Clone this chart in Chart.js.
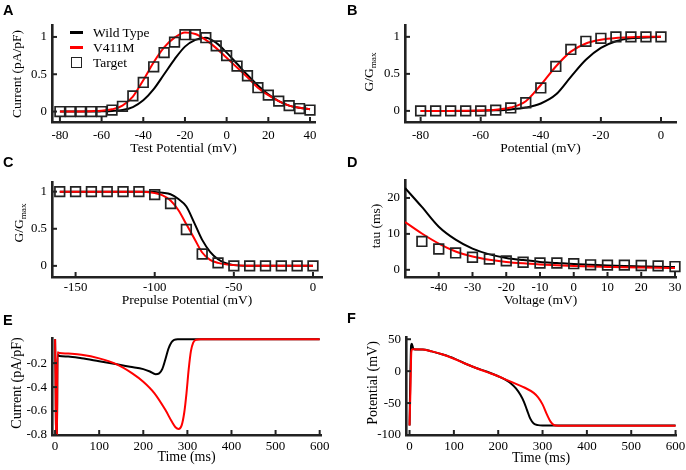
<!DOCTYPE html>
<html>
<head>
<meta charset="utf-8">
<script src="https://cdn.jsdelivr.net/npm/chart.js@4.4.0/dist/chart.umd.min.js"></script>
<style>
  body { margin: 0; background: #fff; width: 686px; height: 470px; position: relative; overflow: hidden; }
  canvas { position: absolute; }
  .lbl { position: absolute; font: bold 14.5px "Liberation Sans", Arial, sans-serif; line-height: 14px; color: #000; }
  .leg { position: absolute; font: 13.5px "Liberation Serif", "Times New Roman", serif; line-height: 14px; color: #000; white-space: nowrap; }
  .sw { position: absolute; }
</style>
</head>
<body>
<canvas id="chartA"></canvas>
<canvas id="chartB"></canvas>
<canvas id="chartC"></canvas>
<canvas id="chartD"></canvas>
<canvas id="chartE"></canvas>
<canvas id="chartF"></canvas>

<div class="lbl" style="left:3px;top:3px">A</div>
<div class="lbl" style="left:347px;top:3px">B</div>
<div class="lbl" style="left:3px;top:155px">C</div>
<div class="lbl" style="left:347px;top:155px">D</div>
<div class="lbl" style="left:3px;top:313px">E</div>
<div class="lbl" style="left:347px;top:311px">F</div>

<!-- legend of panel A -->
<div class="sw" style="left:70px;top:31px;width:13px;height:2.5px;background:#000"></div>
<div class="leg" style="left:93px;top:25.5px">Wild Type</div>
<div class="sw" style="left:70px;top:46px;width:13px;height:2.5px;background:#ff0000"></div>
<div class="leg" style="left:93px;top:40.5px">V411M</div>
<div class="sw" style="left:71px;top:57px;width:11px;height:11px;box-sizing:border-box;border:1.7px solid #222"></div>
<div class="leg" style="left:93px;top:55.5px">Target</div>

<script>
// A: peak current vs test potential
const aVolt = [-80,-75,-70,-65,-60,-55,-50,-45,-40,-35,-30,-25,-20,-15,-10,-5,0,5,10,15,20,25,30,35,40];
const aWildType = [0,0,0,0,0.003,0.008,0.02,0.06,0.15,0.3,0.5,0.7,0.87,0.96,0.99,0.92,0.79,0.64,0.49,0.35,0.23,0.14,0.08,0.05,0.03];
const aV411M = [0,0,0.002,0.005,0.01,0.03,0.08,0.2,0.42,0.66,0.86,0.99,1.06,1.04,0.96,0.85,0.72,0.59,0.46,0.32,0.22,0.14,0.08,0.05,0.03];
const aTarget = [0,0,0,0,0,0.02,0.07,0.21,0.39,0.6,0.79,0.93,1.03,1.03,0.99,0.88,0.75,0.61,0.48,0.32,0.22,0.14,0.08,0.04,0.02];
const aTicksX = [-80,-60,-40,-20,0,20,40];
const aTicksY = [0,0.5,1];

// B: activation G/Gmax
const bVolt = [-80,-75,-70,-65,-60,-55,-50,-45,-40,-35,-30,-25,-20,-15,-10,-5,0];
const bWildType = [0,0,0,0,0.002,0.008,0.02,0.045,0.1,0.22,0.46,0.69,0.85,0.94,0.98,0.99,1];
const bV411M = [0,0,0,0.002,0.005,0.015,0.045,0.13,0.35,0.6,0.8,0.91,0.96,0.985,0.995,1,1];
const bTarget = [0,0,0,0,0,0.01,0.04,0.11,0.31,0.6,0.83,0.94,0.98,1,1,1,1];
const bTicksX = [-80,-60,-40,-20,0];
const bTicksY = [0,0.5,1];

// C: steady-state inactivation
const cVolt = [-160,-150,-140,-130,-120,-110,-100,-90,-80,-70,-60,-50,-40,-30,-20,-10,0];
const cTarget = [1,1,1,1,1,1,0.96,0.84,0.49,0.16,0.04,0,0,0,0,0,0];
const cCurveVolt = [-160,-150,-140,-130,-120,-110,-105,-100,-95,-90,-85,-80,-75,-70,-65,-60,-55,-50,-40,-30,-20,-10,0];
const cWildType = [1,1,1,1,1,1,1,0.995,0.985,0.965,0.9,0.8,0.58,0.35,0.19,0.09,0.035,0.01,0,0,0,0,0];
const cV411M = [1,1,1,1,1,1,0.995,0.98,0.95,0.88,0.75,0.56,0.37,0.18,0.08,0.04,0.02,0.01,0,0,0,0,0];
const cTicksX = [-150,-100,-50,0];
const cTicksY = [0,0.5,1];

// D: time constant
const dVolt = [-45,-40,-35,-30,-25,-20,-15,-10,-5,0,5,10,15,20,25,30];
const dTarget = [7.9,5.8,4.7,3.5,3.0,2.5,2.1,1.9,1.9,1.7,1.4,1.3,1.3,1.2,1.1,0.9];
const dCurveVolt = [-50,-45,-40,-35,-30,-25,-20,-15,-10,-5,0,5,10,15,20,25,30];
const dWildType = [22.8,17.5,12,8.4,5.9,4.3,3.3,2.7,2.2,1.9,1.6,1.4,1.2,1.05,0.95,0.85,0.8];
const dV411M = [13.3,10.1,7.3,5.1,3.7,2.8,2.2,1.8,1.5,1.25,1.05,0.9,0.8,0.7,0.62,0.55,0.5];
const dTicksX = [-40,-30,-20,-10,0,10,20,30];
const dTicksY = [0,10,20];

// E: current during action potential
const eTimeWT = [0,1,2.5,4,5.5,10,30,60,100,140,170,200,215,228,236,243,250,257,264,270,278,300,450,600];
const eWildType = [0,-0.3,-0.9,-0.9,-0.13,-0.14,-0.145,-0.16,-0.185,-0.21,-0.23,-0.25,-0.27,-0.292,-0.285,-0.25,-0.17,-0.08,-0.025,-0.006,0,0,0,0];
const eTimeMut = [0,1,2.5,4,5.5,10,30,60,100,140,175,200,225,250,265,273,280,287,293,298,303,308,313,320,330,450,600];
const eV411M = [0,-0.3,-0.9,-0.9,-0.11,-0.115,-0.12,-0.13,-0.16,-0.21,-0.285,-0.355,-0.45,-0.59,-0.69,-0.735,-0.75,-0.72,-0.61,-0.45,-0.25,-0.1,-0.03,-0.005,0,0,0];
const eTicksX = [0,100,200,300,400,500,600];
const eTicksY = [-0.8,-0.6,-0.4,-0.2];

// F: action potential
const fTimeWT = [0,2,3.5,5,8,12,30,50,75,100,125,150,175,200,215,230,240,250,258,265,272,280,290,300,450,600];
const fWildType = [-85,0,40,43,36,34,34,31,26,20,12,5,-1,-8,-13,-20,-27,-37,-48,-61,-74,-82,-84.5,-85,-85,-85];
const fTimeMut = [0,2,4,6,10,30,50,75,100,125,150,175,200,220,240,260,280,290,300,310,318,325,335,450,600];
const fV411M = [-85,-30,30,34,34.5,34,31,26,19.5,12,5,-1.5,-8,-14,-20,-26,-34,-41,-52,-68,-79,-84,-85.5,-85.5,-85.5];
const fTicksX = [0,100,200,300,400,500,600];
const fTicksY = [-100,-50,0,50];

Chart.defaults.font.family = '"Liberation Serif", "Times New Roman", serif';
const axisColor = '#222';
const textColor = '#000';

function pts(xs, ys) {
  return xs.map((x, i) => ({ x: x, y: ys[i] }));
}
function curve(xs, ys, color) {
  return { data: pts(xs, ys), borderColor: color, borderWidth: 2, pointRadius: 0,
           fill: false, cubicInterpolationMode: 'monotone' };
}
function squares(xs, ys) {
  return { data: pts(xs, ys), showLine: false, pointStyle: 'rect', pointRadius: 6.8,
           borderColor: '#222', borderWidth: 1.7, backgroundColor: 'rgba(0,0,0,0)', clip: false };
}

// short tick marks pointing into the plot
const inTicks = {
  id: 'inTicks',
  afterDraw(chart) {
    const { ctx, chartArea: a, scales } = chart;
    ctx.save();
    ctx.strokeStyle = axisColor;
    ctx.lineWidth = 2;
    scales.x.ticks.forEach(t => {
      const px = scales.x.getPixelForValue(t.value);
      ctx.beginPath(); ctx.moveTo(px, a.bottom); ctx.lineTo(px, a.bottom - 5); ctx.stroke();
    });
    scales.y.ticks.forEach(t => {
      const py = scales.y.getPixelForValue(t.value);
      ctx.beginPath(); ctx.moveTo(a.left, py); ctx.lineTo(a.left + 5, py); ctx.stroke();
    });
    ctx.restore();
  }
};

// rotated y title, with optional subscript
const yTitle = {
  id: 'yTitle',
  afterDraw(chart, args, o) {
    if (!o || !o.text) return;
    const ctx = chart.ctx;
    const fam = '"Liberation Serif", "Times New Roman", serif';
    const mainFont = o.size + 'px ' + fam;
    const subFont = (o.size * 0.68) + 'px ' + fam;
    ctx.save();
    ctx.fillStyle = textColor;
    ctx.textBaseline = 'middle';
    ctx.textAlign = 'left';
    ctx.font = mainFont;
    const w1 = ctx.measureText(o.text).width;
    let w2 = 0;
    if (o.sub) { ctx.font = subFont; w2 = ctx.measureText(o.sub).width; }
    ctx.translate(o.x, o.y);
    ctx.rotate(-Math.PI / 2);
    ctx.font = mainFont;
    ctx.fillText(o.text, -(w1 + w2) / 2, 0);
    if (o.sub) { ctx.font = subFont; ctx.fillText(o.sub, -(w1 + w2) / 2 + w1, o.size * 0.32); }
    ctx.restore();
  }
};

function panel(id, box, area, cfg) {
  const cv = document.getElementById(id);
  cv.width = box.w; cv.height = box.h;
  cv.style.left = box.x + 'px'; cv.style.top = box.y + 'px';
  new Chart(cv, {
    type: 'line',
    data: { datasets: cfg.datasets },
    options: {
      responsive: false,
      animation: false,
      events: [],
      layout: { padding: { left: 0, top: area.t - box.y, right: box.x + box.w - area.r, bottom: 0 } },
      plugins: { legend: { display: false }, tooltip: { enabled: false }, yTitle: cfg.yTitle },
      scales: {
        x: {
          type: 'linear', min: cfg.xMin, max: cfg.xMax,
          border: { color: axisColor, width: 2.6 },
          grid: { display: false, drawTicks: false },
          ticks: { autoSkip: false, maxRotation: 0, padding: cfg.xPad, color: textColor,
                   font: { size: cfg.tickSize }, callback: v => String(v) },
          afterBuildTicks: s => { s.ticks = cfg.xTicks.map(v => ({ value: v })); },
          afterFit: s => { s.height = box.y + box.h - area.b; s.paddingLeft = 0; s.paddingRight = 0; },
          title: { display: true, text: cfg.xTitle, color: textColor,
                   font: { size: cfg.titleSize, lineHeight: 1 }, padding: { top: 0, bottom: cfg.xTitlePad } }
        },
        y: {
          type: 'linear', min: cfg.yMin, max: cfg.yMax,
          border: { color: axisColor, width: 2.6 },
          grid: { display: false, drawTicks: false },
          ticks: { autoSkip: false, padding: 5, color: textColor,
                   font: { size: cfg.tickSize }, callback: v => String(v) },
          afterBuildTicks: s => { s.ticks = cfg.yTicks.map(v => ({ value: v })); },
          afterFit: s => { s.width = area.l - box.x; s.paddingTop = 0; s.paddingBottom = 0; }
        }
      }
    },
    plugins: [inTicks, yTitle]
  });
}

panel('chartA', { x: 0, y: 0, w: 343, h: 157 }, { l: 52, t: 25, r: 315, b: 122 }, {
  datasets: [squares(aVolt, aTarget), curve(aVolt, aV411M, '#ff0000'), curve(aVolt, aWildType, '#000')],
  xMin: -83.8, xMax: 42.4, yMin: -0.14, yMax: 1.16, xTicks: aTicksX, yTicks: aTicksY,
  tickSize: 12.8, titleSize: 13.5, xPad: 6, xTitlePad: 1.3,
  xTitle: 'Test Potential (mV)', yTitle: { text: 'Current (pA/pF)', size: 13.5, x: 17, y: 74 }
});

panel('chartB', { x: 343, y: 0, w: 343, h: 157 }, { l: 405, t: 25, r: 676, b: 122 }, {
  datasets: [squares(bVolt, bTarget), curve(bVolt, bV411M, '#ff0000'), curve(bVolt, bWildType, '#000')],
  xMin: -85.2, xMax: 5, yMin: -0.15, yMax: 1.16, xTicks: bTicksX, yTicks: bTicksY,
  tickSize: 12.8, titleSize: 13.5, xPad: 5.5, xTitlePad: 2.2,
  xTitle: 'Potential (mV)', yTitle: { text: 'G/G', sub: 'max', size: 13.5, x: 26, y: 72 }
});

panel('chartC', { x: 0, y: 155, w: 343, h: 155 }, { l: 52, t: 182, r: 322, b: 277 }, {
  datasets: [squares(cVolt, cTarget), curve(cCurveVolt, cV411M, '#ff0000'), curve(cCurveVolt, cWildType, '#000')],
  xMin: -164.9, xMax: 5.7, yMin: -0.15, yMax: 1.13, xTicks: cTicksX, yTicks: cTicksY,
  tickSize: 12.8, titleSize: 13.5, xPad: 3, xTitlePad: 3,
  xTitle: 'Prepulse Potential (mV)', yTitle: { text: 'G/G', sub: 'max', size: 13.5, x: 19, y: 68 }
});

panel('chartD', { x: 343, y: 155, w: 343, h: 155 }, { l: 405, t: 180, r: 676, b: 277 }, {
  datasets: [squares(dVolt, dTarget), curve(dCurveVolt, dV411M, '#ff0000'), curve(dCurveVolt, dWildType, '#000')],
  xMin: -50, xMax: 30.3, yMin: -2, yMax: 25, xTicks: dTicksX, yTicks: dTicksY,
  tickSize: 12.8, titleSize: 13.5, xPad: 3, xTitlePad: 2.3,
  xTitle: 'Voltage (mV)', yTitle: { text: 'tau (ms)', size: 13.5, x: 33, y: 71 }
});

panel('chartE', { x: 0, y: 310, w: 343, h: 160 }, { l: 52, t: 338, r: 321, b: 435 }, {
  datasets: [curve(eTimeMut, eV411M, '#ff0000'), curve(eTimeWT, eWildType, '#000')],
  xMin: -7, xMax: 603, yMin: -0.8, yMax: 0.01, xTicks: eTicksX, yTicks: eTicksY,
  tickSize: 13, titleSize: 14, xPad: 3.5, xTitlePad: 5.5,
  xTitle: 'Time (ms)', yTitle: { text: 'Current (pA/pF)', size: 14, x: 17, y: 73 }
});

panel('chartF', { x: 343, y: 310, w: 343, h: 160 }, { l: 406, t: 337, r: 676, b: 435 }, {
  datasets: [curve(fTimeMut, fV411M, '#ff0000'), curve(fTimeWT, fWildType, '#000')],
  xMin: -8, xMax: 601, yMin: -100, yMax: 53.5, xTicks: fTicksX, yTicks: fTicksY,
  tickSize: 13, titleSize: 14, xPad: 3.5, xTitlePad: 5,
  xTitle: 'Time (ms)', yTitle: { text: 'Potential (mV)', size: 14, x: 30, y: 73 }
});
</script>
</body>
</html>
